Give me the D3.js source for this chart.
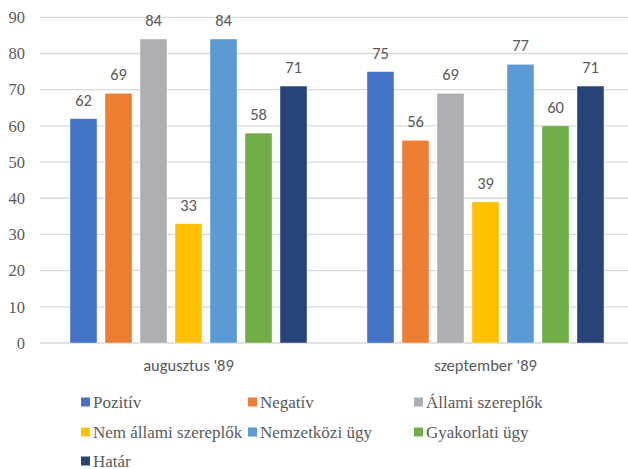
<!DOCTYPE html>
<html>
<head>
<meta charset="utf-8">
<script src="https://cdn.jsdelivr.net/npm/d3@7"></script>
<style>
  body { margin: 0; background: #fff; }
  svg { display: block; }
</style>
</head>
<body>
<div id="chart"></div>
<script>
// adatok
const categories = ["augusztus '89", "szeptember '89"];
const series = ["Pozitív", "Negatív", "Állami szereplők", "Nem állami szereplők", "Nemzetközi ügy", "Gyakorlati ügy", "Határ"];
const values = [
    [62, 75],   // Pozitív
    [69, 56],   // Negatív
    [84, 69],   // Állami szereplők
    [33, 39],   // Nem állami szereplők
    [84, 77],   // Nemzetközi ügy
    [58, 60],   // Gyakorlati ügy
    [71, 71]    // Határ
];
const yTicks = [0, 10, 20, 30, 40, 50, 60, 70, 80, 90];
const colors = ["#4472C4", "#ED7D31", "#AEAFB2", "#FFC000", "#5B9BD5", "#70AD47", "#264478"];

const serif = "Liberation Serif, Tinos, serif", sans = "Carlito, Calibri, Lato, sans-serif";
const width = 628, height = 469;
const margin = { left: 40, right: 634, top: 17.3, bottom: 343 };

const svg = d3.select("#chart").append("svg")
    .attr("width", width)
    .attr("height", height);

const y = d3.scaleLinear().domain([0, 90]).range([margin.bottom, margin.top]);

const x0 = d3.scaleBand().domain(categories).range([margin.left, margin.right])
    .paddingInner(60 / 297).paddingOuter(30 / 297);

const x1 = d3.scaleBand().domain(series).range([0, x0.bandwidth()])
    .paddingInner(8 / 35).paddingOuter(0);

// rácsvonalak
svg.append("g")
    .selectAll("line")
    .data(yTicks)
    .enter().append("line")
    .attr("x1", margin.left).attr("x2", 628)
    .attr("y1", d => y(d)).attr("y2", d => y(d))
    .attr("stroke", "#D9D9D9")
    .attr("stroke-width", 1.3);

// y tengely feliratai
svg.append("g")
    .selectAll("text")
    .data(yTicks)
    .enter().append("text")
    .attr("font-family", serif)
    .attr("font-size", 16.5)
    .attr("fill", "#595959")
    .attr("text-anchor", "end")
    .attr("x", 25)
    .attr("y", d => y(d))
    .attr("dy", "0.35em")
    .text(d => d);

// oszlopok
const rows = [];
series.forEach((s, i) => {
    categories.forEach((c, j) => rows.push({ s: s, c: c, v: values[i][j], i: i }));
});

svg.append("g")
    .selectAll("rect")
    .data(rows)
    .enter().append("rect")
    .attr("x", d => x0(d.c) + x1(d.s))
    .attr("y", d => y(d.v))
    .attr("width", x1.bandwidth())
    .attr("height", d => y(0) - y(d.v))
    .attr("fill", d => colors[d.i])
    .attr("stroke", "#fff")
    .attr("stroke-opacity", 0.5)
    .attr("stroke-width", 0.8);

// értékcímkék
svg.append("g")
    .selectAll("text")
    .data(rows)
    .enter().append("text")
    .attr("font-family", sans)
    .attr("font-size", 16.5)
    .attr("fill", "#595959")
    .attr("text-anchor", "middle")
    .attr("x", d => x0(d.c) + x1(d.s) + x1.bandwidth() / 2)
    .attr("y", d => y(d.v) - 13)
    .text(d => d.v);

// kategória feliratok
svg.append("g")
    .selectAll("text")
    .data(categories)
    .enter().append("text")
    .attr("font-family", sans)
    .attr("font-size", 16.5)
    .attr("fill", "#595959")
    .attr("text-anchor", "middle")
    .attr("x", d => x0(d) + x0.bandwidth() / 2)
    .attr("y", 370.5)
    .text(d => d);

// jelmagyarázat
const legendX = [81, 248, 414], legendY = [402.5, 432.5, 461.5];
const legend = svg.append("g")
    .selectAll("g")
    .data(series)
    .enter().append("g")
    .attr("transform", (d, i) => "translate(" + legendX[i % 3] + "," + legendY[Math.floor(i / 3)] + ")");

legend.append("rect")
    .attr("x", 0).attr("y", -5)
    .attr("width", 9).attr("height", 9)
    .attr("fill", (d, i) => colors[i]);

legend.append("text")
    .attr("font-family", serif)
    .attr("font-size", 17)
    .attr("fill", "#595959")
    .attr("x", 12)
    .attr("y", 0)
    .attr("dy", "0.33em")
    .text(d => d);
</script>
</body>
</html>
